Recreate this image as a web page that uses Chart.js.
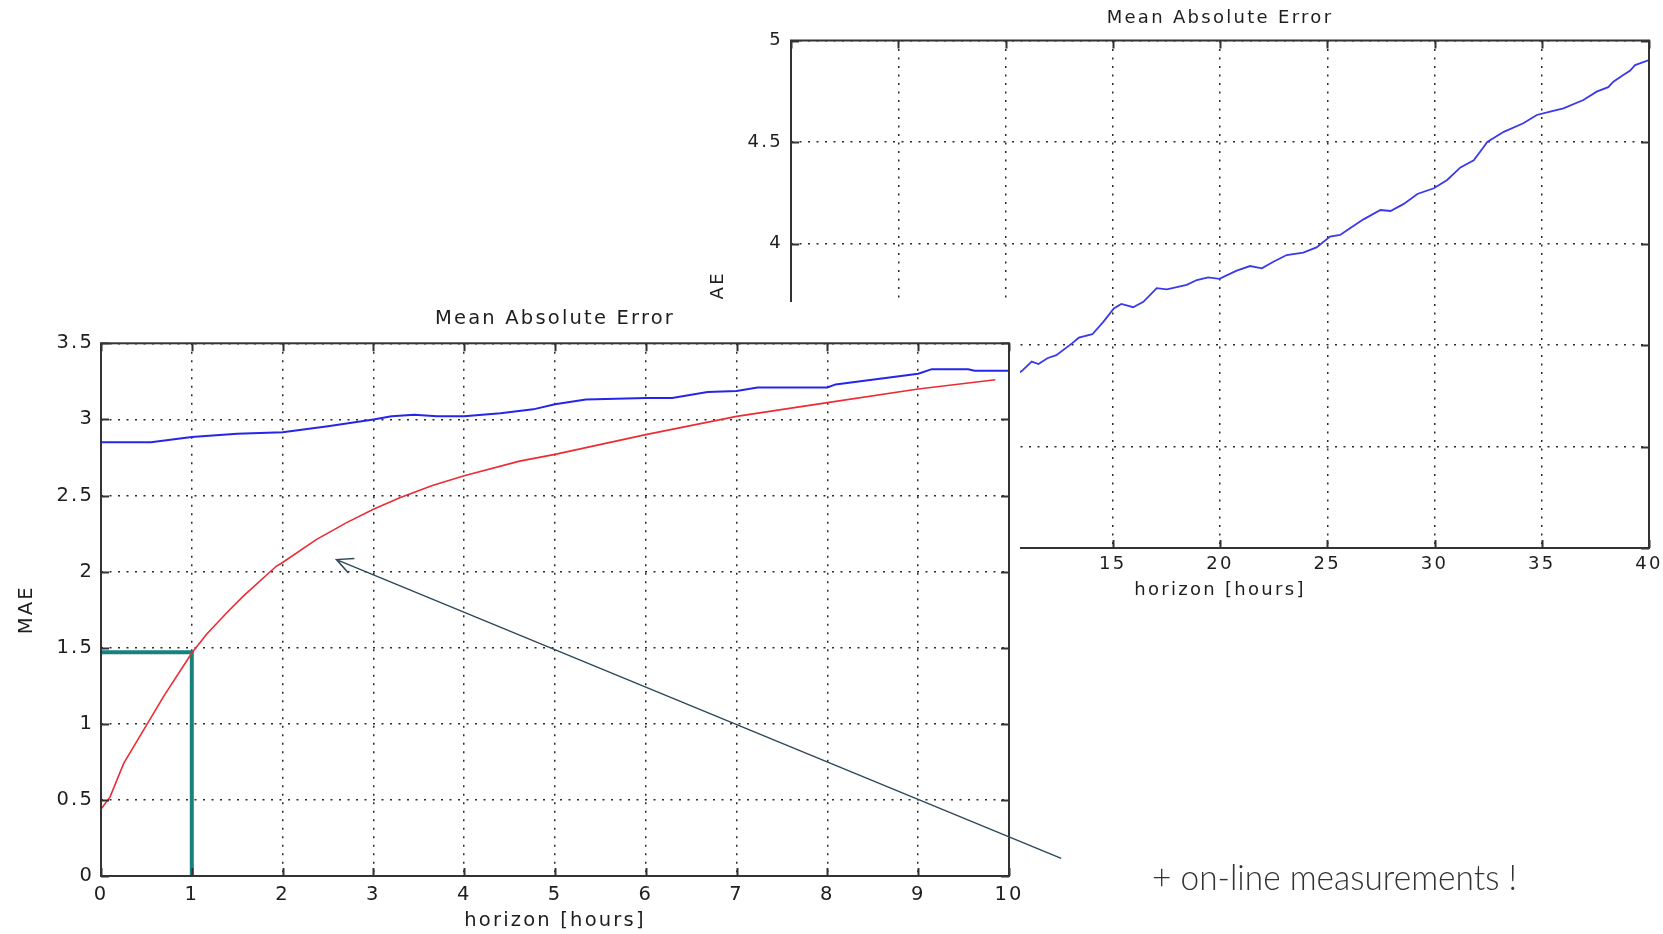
<!DOCTYPE html>
<html>
<head>
<meta charset="utf-8">
<script src="https://cdn.jsdelivr.net/npm/chart.js@4.4.1/dist/chart.umd.min.js"></script>
<style>
  html, body { margin:0; padding:0; background:#fff; width:1663px; height:934px; overflow:hidden; }
  #backWrap { position:absolute; left:0; top:0; width:1663px; height:934px; }
  #frontWrap { position:absolute; left:0; top:302px; width:1663px; height:632px; }
  #note { position:absolute; left:1152px; top:858px; font-family:'Lato','Open Sans',sans-serif; font-weight:300;
          font-size:36px; line-height:1; color:#333; white-space:nowrap; transform-origin:0 0; }
</style>
</head>
<body>
<div id="backWrap"><canvas id="back" width="1663" height="934"></canvas></div>
<div id="frontWrap"><canvas id="front" width="1663" height="632"></canvas></div>
<div id="note">+ on-line measurements !</div>
<script>
// ---------- data ----------
const frontBlueX = [0, 0.55, 1.0, 1.5, 2.0, 2.5, 3.0, 3.2, 3.45, 3.7, 4.0, 4.4, 4.76, 5.0, 5.34, 6.0, 6.29, 6.68, 7.0, 7.23, 8.0, 8.09, 9.0, 9.15, 9.55, 9.62, 10.0];
const frontBlueY = [2.85, 2.85, 2.885, 2.905, 2.915, 2.955, 3.0, 3.02, 3.03, 3.02, 3.02, 3.04, 3.066, 3.10, 3.13, 3.14, 3.14, 3.18, 3.186, 3.21, 3.21, 3.23, 3.30, 3.33, 3.33, 3.32, 3.32];

const frontRedX = [0, 0.1, 0.25, 0.47, 0.69, 1.0, 1.165, 1.385, 1.57, 1.93, 2.0, 2.37, 2.7, 3.0, 3.29, 3.65, 4.0, 4.61, 5.0, 6.0, 7.0, 8.0, 9.0, 9.85];
const frontRedY = [0.44, 0.52, 0.74, 0.96, 1.18, 1.465, 1.59, 1.73, 1.84, 2.035, 2.06, 2.21, 2.32, 2.41, 2.485, 2.566, 2.63, 2.726, 2.77, 2.90, 3.02, 3.11, 3.20, 3.26];

// long-horizon continuation of the blue series (back chart, 0..40 h)
const extBlueX = [10.77, 11.22, 11.54, 11.95, 12.37, 13.1, 13.42, 14.05, 14.57, 15.05, 15.4, 15.95, 16.43, 17.05, 17.52, 18.45, 18.92, 19.45, 19.97, 20.78, 21.4, 21.95, 22.49, 23.11, 23.88, 24.5, 25.13, 25.6, 26.06, 26.69, 27.48, 27.95, 28.57, 29.2, 29.97, 30.59, 31.21, 31.83, 32.3, 32.46, 33.23, 34.14, 34.77, 35.39, 36.01, 36.94, 37.56, 38.1, 38.34, 38.8, 39.11, 39.35, 40];
const extBlueY = [3.373, 3.418, 3.406, 3.435, 3.45, 3.508, 3.536, 3.553, 3.615, 3.68, 3.702, 3.686, 3.713, 3.78, 3.774, 3.796, 3.82, 3.833, 3.826, 3.866, 3.889, 3.878, 3.91, 3.943, 3.955, 3.981, 4.034, 4.042, 4.075, 4.119, 4.165, 4.16, 4.195, 4.244, 4.272, 4.313, 4.375, 4.41, 4.477, 4.5, 4.55, 4.592, 4.633, 4.65, 4.666, 4.707, 4.748, 4.77, 4.797, 4.83, 4.851, 4.879, 4.904];

// 1-hour marker (teal) and annotation arrow, in data units of the front chart
const markerX = [0, 1, 1];
const markerY = [1.47, 1.47, 0];
const arrowFrom = [10.575, 0.116];
const arrowTo = [2.593, 2.079];

const titleText = 'Mean Absolute Error';
const xTitleText = 'horizon [hours]';
const yTitleText = 'MAE';

// ---------- helpers ----------
const zip = (xs, ys) => xs.map((x, i) => ({ x: x, y: ys[i] }));
const TXT = '#1e1e1e';
const GRID = '#2a2a2a';
const FONT = 'DejaVu Sans';

function spacingPlugin(px) {
  return {
    id: 'spacing',
    beforeUpdate(chart) { chart.ctx.letterSpacing = px + 'px'; },
    beforeDraw(chart) { chart.ctx.letterSpacing = px + 'px'; },
    afterDraw(chart) { chart.ctx.letterSpacing = '0px'; }
  };
}

const framePlugin = {
  id: 'frame',
  afterDraw(chart) {
    const { ctx, chartArea: a, scales: { x, y } } = chart;
    ctx.save();
    ctx.setLineDash([]);
    ctx.strokeStyle = '#333';
    ctx.lineWidth = 2;
    ctx.strokeRect(a.left, a.top, a.right - a.left, a.bottom - a.top);
    const L = 8;
    ctx.beginPath();
    x.ticks.forEach(t => {
      const p = Math.round(x.getPixelForValue(t.value)) + 0.5;
      ctx.moveTo(p, a.bottom); ctx.lineTo(p, a.bottom - L);
      ctx.moveTo(p, a.top); ctx.lineTo(p, a.top + L);
    });
    y.ticks.forEach(t => {
      const p = Math.round(y.getPixelForValue(t.value)) + 0.5;
      ctx.moveTo(a.left, p); ctx.lineTo(a.left + L, p);
      ctx.moveTo(a.right, p); ctx.lineTo(a.right - L, p);
    });
    ctx.stroke();
    ctx.restore();
  }
};

function axisCommon(opts) {
  return {
    type: 'linear',
    min: opts.min, max: opts.max,
    ticks: {
      stepSize: opts.step, autoSkip: false, maxRotation: 0, minRotation: 0,
      color: TXT, padding: opts.tickPad,
      font: { family: FONT, size: opts.size },
      callback: v => String(v)
    },
    grid: { color: GRID, lineWidth: 1.5, drawTicks: false, borderDash: [2, 6.5] },
    border: { display: false, dash: [2, 6.5] },
    title: {
      display: true, text: opts.title, color: TXT,
      font: { family: FONT, size: opts.size },
      padding: opts.titlePad
    },
    afterFit(scale) {
      if (opts.height) scale.height = opts.height;
      if (opts.width) scale.width = opts.width;
      scale.paddingLeft = 0; scale.paddingRight = 0; scale.paddingTop = 0; scale.paddingBottom = 0;
    }
  };
}

// ---------- back chart (0..40 h) ----------
new Chart(document.getElementById('back'), {
  type: 'line',
  data: {
    datasets: [{
      label: 'MAE',
      data: zip(frontBlueX.concat(extBlueX), frontBlueY.concat(extBlueY)),
      borderColor: '#3a3aec', borderWidth: 1.8, pointRadius: 0, tension: 0, fill: false
    }]
  },
  options: {
    responsive: false, animation: false, events: [],
    layout: { padding: { left: 690, right: 14, top: 0, bottom: 332 } },
    plugins: {
      legend: { display: false }, tooltip: { enabled: false },
      title: {
        display: true, text: titleText, fullSize: false, color: TXT,
        font: { family: FONT, size: 18, weight: 'normal' },
        padding: { top: 7.2, bottom: 11.7 }
      }
    },
    scales: {
      x: axisCommon({ min: 0, max: 40, step: 5, size: 18, tickPad: 5.5, title: xTitleText, titlePad: { top: 0, bottom: 1.2 }, height: 54 }),
      y: axisCommon({ min: 2.5, max: 5, step: 0.5, size: 18, tickPad: 8, title: yTitleText, titlePad: { top: 18, bottom: 0 }, width: 101 })
    }
  },
  plugins: [spacingPlugin(2.3), framePlugin]
});

// ---------- front chart (0..10 h) ----------
const whiteBox = {
  id: 'whiteBox',
  beforeDraw(chart) {
    const ctx = chart.ctx;
    ctx.save();
    ctx.fillStyle = '#fff';
    ctx.fillRect(0, 0, 1020, chart.height);
    ctx.restore();
  }
};

const arrowPlugin = {
  id: 'arrow',
  afterDraw(chart) {
    const { ctx, scales: { x, y } } = chart;
    const x0 = x.getPixelForValue(arrowFrom[0]), y0 = y.getPixelForValue(arrowFrom[1]);
    const x1 = x.getPixelForValue(arrowTo[0]), y1 = y.getPixelForValue(arrowTo[1]);
    const ang = Math.atan2(y0 - y1, x0 - x1);
    const hl = 18, ha = 0.45;
    ctx.save();
    ctx.setLineDash([]);
    ctx.strokeStyle = '#2e4a5a';
    ctx.lineWidth = 1.5;
    ctx.beginPath();
    ctx.moveTo(x0, y0); ctx.lineTo(x1, y1);
    ctx.moveTo(x1 + hl * Math.cos(ang - ha), y1 + hl * Math.sin(ang - ha));
    ctx.lineTo(x1, y1);
    ctx.lineTo(x1 + hl * Math.cos(ang + ha), y1 + hl * Math.sin(ang + ha));
    ctx.stroke();
    ctx.restore();
  }
};

new Chart(document.getElementById('front'), {
  type: 'line',
  data: {
    datasets: [
      { label: 'MAE blue', data: zip(frontBlueX, frontBlueY), borderColor: '#2626e8', borderWidth: 2, pointRadius: 0, tension: 0, fill: false },
      { label: 'MAE red', data: zip(frontRedX, frontRedY), borderColor: '#ec2c34', borderWidth: 1.6, pointRadius: 0, tension: 0, fill: false },
      { label: '1 h', data: zip(markerX, markerY), borderColor: '#17817d', borderWidth: 4, pointRadius: 0, tension: 0, fill: false, clip: 4 }
    ]
  },
  options: {
    responsive: false, animation: false, events: [],
    layout: { padding: { left: 0, right: 654, top: 0, bottom: 0 } },
    plugins: {
      legend: { display: false }, tooltip: { enabled: false },
      title: {
        display: true, text: titleText, fullSize: false, color: TXT,
        font: { family: FONT, size: 19.5, weight: 'normal' },
        padding: { top: 5.3, bottom: 12.6 }
      }
    },
    scales: {
      x: axisCommon({ min: 0, max: 10, step: 1, size: 19.5, tickPad: 6.8, title: xTitleText, titlePad: { top: 0, bottom: 1.7 }, height: 58 }),
      y: axisCommon({ min: 0, max: 3.5, step: 0.5, size: 19.5, tickPad: 7, title: yTitleText, titlePad: { top: 14.8, bottom: 0 }, width: 101 })
    }
  },
  plugins: [whiteBox, spacingPlugin(2.2), framePlugin, arrowPlugin]
});

// fit the side note to its width in the reference
(function () {
  const note = document.getElementById('note');
  const w = note.getBoundingClientRect().width;
  if (w > 0) note.style.transform = 'scaleX(' + (365 / w) + ')';
})();
</script>
</body>
</html>
